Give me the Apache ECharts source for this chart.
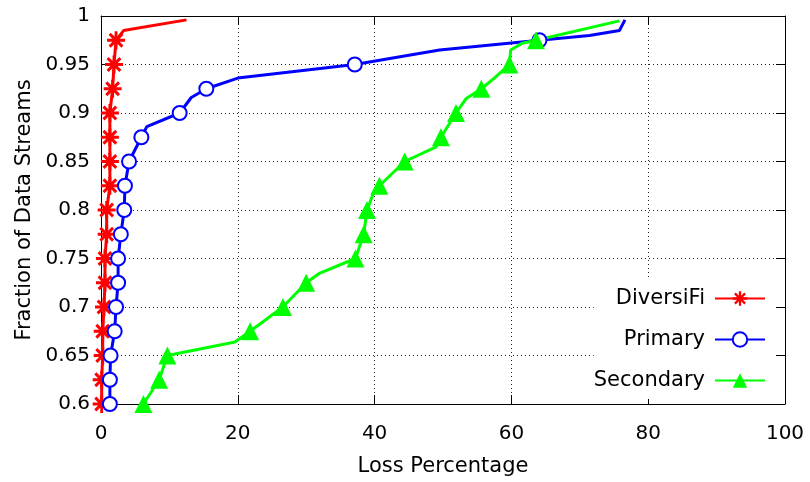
<!DOCTYPE html>
<html>
<head>
<meta charset="utf-8">
<title>Loss Percentage CDF</title>
<script src="https://cdn.jsdelivr.net/npm/echarts@6/dist/echarts.min.js"></script>
<style>
  html, body { margin: 0; padding: 0; background: #fff; }
  #chart { width: 810px; height: 482px; }
</style>
</head>
<body>
<div id="chart"></div>
<script>
// Series names
const seriesNames = ['DiversiFi', 'Primary', 'Secondary'];

// Fraction levels that carry a point marker
const markerLevels = [0.6, 0.625, 0.65, 0.675, 0.7, 0.725, 0.75, 0.775, 0.8, 0.825,
                      0.85, 0.875, 0.9, 0.925, 0.95, 0.975];

// DiversiFi: loss percentage (x) vs fraction of data streams (y)
const diversifiX = [0.1, 0.1, 0.25, 0.25, 0.44, 0.58, 0.58, 0.83, 0.83, 1.3, 1.3, 1.3, 1.3, 1.7, 1.9, 2.2, 3.3, 12.5];
const diversifiY = [0.6, 0.625, 0.65, 0.675, 0.7, 0.725, 0.75, 0.775, 0.8, 0.825, 0.85, 0.875, 0.9, 0.925, 0.95, 0.975, 0.985, 0.996];

// Primary
const primaryX = [1.3, 1.3, 1.4, 2.0, 2.2, 2.5, 2.5, 2.9, 3.4, 3.5, 4.1, 5.9, 6.7, 11.5, 13.2, 15.4, 20.0, 37.1, 49.5, 64.1, 71.4, 75.8, 76.6];
const primaryY = [0.6, 0.625, 0.65, 0.675, 0.7, 0.725, 0.75, 0.775, 0.8, 0.825, 0.85, 0.875, 0.886, 0.9, 0.916, 0.925, 0.936, 0.95, 0.965, 0.975, 0.98, 0.985, 0.996];

// Secondary
const secondaryX = [6.2, 8.5, 9.7, 19.6, 21.8, 26.6, 30.0, 32.0, 37.2, 38.4, 38.9, 39.8, 40.7, 44.4, 49.0, 49.7, 51.9, 53.4, 55.6, 57.5, 59.7, 59.9, 61.6, 63.6, 75.8];
const secondaryY = [0.6, 0.625, 0.65, 0.664, 0.675, 0.7, 0.725, 0.735, 0.75, 0.775, 0.8, 0.817, 0.825, 0.85, 0.865, 0.875, 0.9, 0.915, 0.925, 0.936, 0.95, 0.965, 0.972, 0.975, 0.995];

// Axis ranges
const xRange = [0, 100, 20];
const yRange = [0.6, 1, 0.05];

const FONT = 'DejaVu Sans';

// Eight-armed asterisk built from thin bars
function asteriskPath() {
  const L = 10, w = 1.6;
  let d = '';
  [0, 45, 90, 135].forEach(function (deg) {
    const t = deg * Math.PI / 180;
    const dx = Math.cos(t), dy = Math.sin(t);
    const nx = -dy, ny = dx;
    const p = [
      [-L * dx - w * nx, -L * dy - w * ny],
      [L * dx - w * nx, L * dy - w * ny],
      [L * dx + w * nx, L * dy + w * ny],
      [-L * dx + w * nx, -L * dy + w * ny]
    ].map(function (q) { return q[0].toFixed(3) + ',' + q[1].toFixed(3); });
    d += 'M' + p[0] + 'L' + p[1] + 'L' + p[2] + 'L' + p[3] + 'Z';
  });
  return 'path://' + d;
}

function isMarker(y) {
  return markerLevels.some(function (m) { return Math.abs(m - y) < 1e-9; });
}

function buildData(xs, ys) {
  return xs.map(function (x, i) {
    const item = { value: [x, ys[i]] };
    if (!isMarker(ys[i])) item.symbol = 'none';
    return item;
  });
}

function lineSeries(name, xs, ys, color, symbol, size, itemStyle) {
  return {
    name: name,
    type: 'line',
    data: buildData(xs, ys),
    symbol: symbol,
    symbolSize: size,
    showAllSymbol: true,
    smooth: false,
    lineStyle: { color: color, width: 3 },
    itemStyle: Object.assign({ color: color }, itemStyle || {}),
    emphasis: { disabled: true },
    animation: false
  };
}

const tickText = { color: '#000', fontFamily: FONT, fontSize: 20 };
const nameText = { color: '#000', fontFamily: FONT, fontSize: 21 };

const chart = echarts.init(document.getElementById('chart'), null, { renderer: 'canvas' });

chart.setOption({
  backgroundColor: '#fff',
  animation: false,
  grid: { left: 101, right: 25, top: 16, bottom: 78, containLabel: false },
  legend: {
    orient: 'vertical',
    right: 25,
    top: 278,
    align: 'right',
    itemWidth: 50,
    itemHeight: 18,
    itemGap: 20,
    padding: [10, 19, 8, 0],
    backgroundColor: '#fff',
    selectedMode: false,
    textStyle: { color: '#000', fontFamily: FONT, fontSize: 21, padding: [0, 5, 0, 0] },
    data: seriesNames
  },
  xAxis: [
    {
      type: 'value', min: xRange[0], max: xRange[1], interval: xRange[2],
      position: 'bottom',
      name: 'Loss Percentage', nameLocation: 'middle', nameGap: 52,
      nameTextStyle: nameText,
      axisLine: { show: true, onZero: false, lineStyle: { color: '#000', width: 1 } },
      axisTick: { show: true, inside: true, length: 9, lineStyle: { color: '#000' } },
      axisLabel: Object.assign({ margin: 20 }, tickText),
      splitLine: { show: true, lineStyle: { color: '#222', type: [1, 3], width: 1 } }
    },
    {
      type: 'value', min: xRange[0], max: xRange[1], interval: xRange[2],
      position: 'top', z: 10,
      axisLine: { show: true, onZero: false, lineStyle: { color: '#000', width: 1 } },
      axisTick: { show: true, inside: true, length: 9, lineStyle: { color: '#000' } },
      axisLabel: { show: false },
      splitLine: { show: false }
    }
  ],
  yAxis: [
    {
      type: 'value', min: yRange[0], max: yRange[1], interval: yRange[2],
      position: 'left',
      name: 'Fraction of Data Streams', nameLocation: 'middle', nameGap: 66,
      nameTextStyle: nameText,
      axisLine: { show: true, onZero: false, lineStyle: { color: '#000', width: 1 } },
      axisTick: { show: true, inside: true, length: 9, lineStyle: { color: '#000' } },
      axisLabel: Object.assign({ margin: 11 }, tickText),
      splitLine: { show: true, lineStyle: { color: '#222', type: [1, 3], width: 1 } }
    },
    {
      type: 'value', min: yRange[0], max: yRange[1], interval: yRange[2],
      position: 'right', z: 10,
      axisLine: { show: true, onZero: false, lineStyle: { color: '#000', width: 1 } },
      axisTick: { show: true, inside: true, length: 9, lineStyle: { color: '#000' } },
      axisLabel: { show: false },
      splitLine: { show: false }
    }
  ],
  series: [
    lineSeries(seriesNames[0], diversifiX, diversifiY, '#ff0000', asteriskPath(), 18),
    lineSeries(seriesNames[1], primaryX, primaryY, '#0000ff', 'emptyCircle', 14, { borderWidth: 2.8 }),
    lineSeries(seriesNames[2], secondaryX, secondaryY, '#00ff00', 'triangle', 18)
  ]
});
</script>
</body>
</html>
